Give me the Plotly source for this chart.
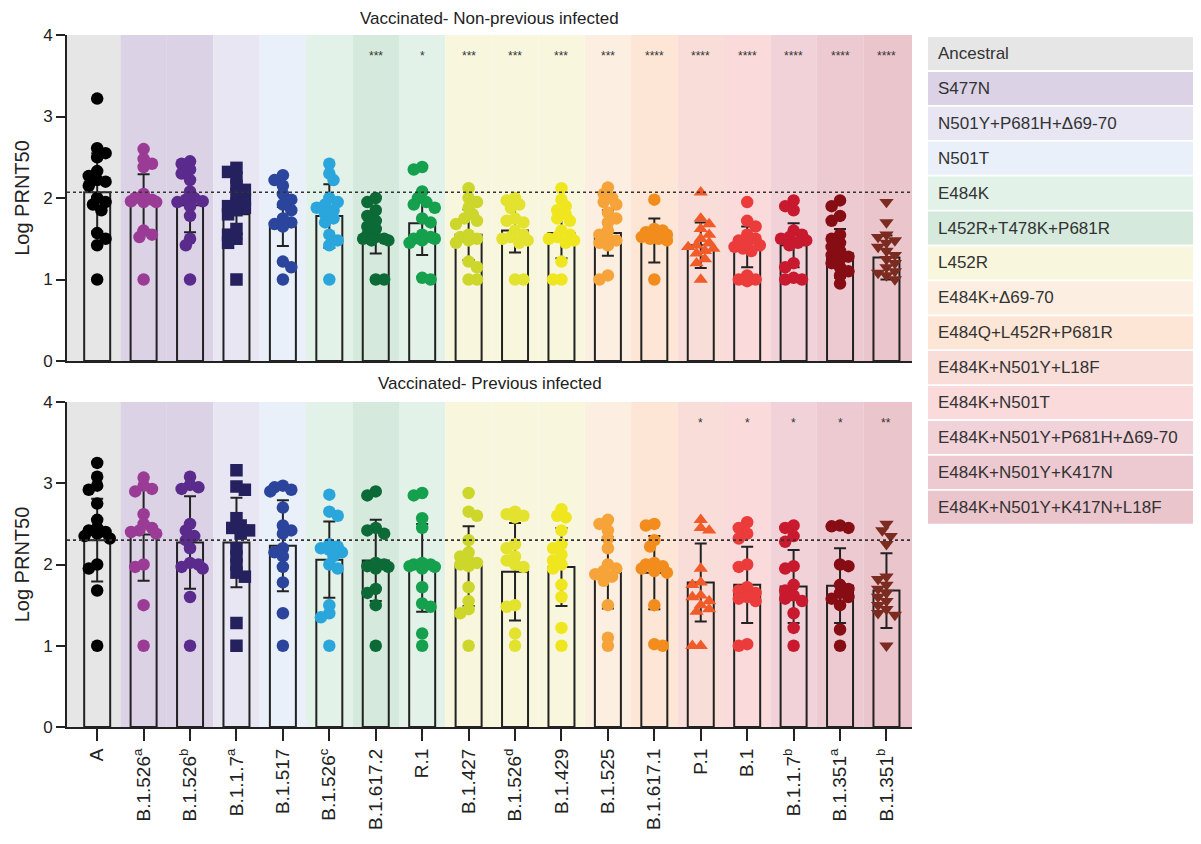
import plotly.graph_objects as go

# ---------------- data ----------------
categories = ["A", "B.1.526", "B.1.526", "B.1.1.7", "B.1.517", "B.1.526", "B.1.617.2", "R.1",
              "B.1.427", "B.1.526", "B.1.429", "B.1.525", "B.1.617.1", "P.1", "B.1", "B.1.1.7",
              "B.1.351", "B.1.351"]
superscripts = ["", "a", "b", "a", "", "c", "", "", "", "d", "", "", "", "", "", "b", "a", "b"]

mutation_groups = ["Ancestral", "S477N", "N501Y+P681H+Δ69-70", "N501T", "E484K",
                   "L452R+T478K+P681R", "L452R", "E484K+Δ69-70", "E484Q+L452R+P681R",
                   "E484K+N501Y+L18F", "E484K+N501T", "E484K+N501Y+P681H+Δ69-70",
                   "E484K+N501Y+K417N", "E484K+N501Y+K417N+L18F"]
category_group = [0, 1, 1, 2, 3, 4, 5, 4, 6, 6, 6, 7, 8, 9, 10, 11, 12, 13]

# Vaccinated - non-previous infected
mean_nonprev = [2.07, 1.95, 1.91, 1.80, 1.65, 1.78, 1.52, 1.69, 1.55, 1.60, 1.57, 1.57, 1.48,
                1.42, 1.40, 1.42, 1.32, 1.27]
sd_nonprev = [0.48, 0.34, 0.33, 0.30, 0.24, 0.39, 0.20, 0.39, 0.31, 0.27, 0.31, 0.28, 0.27,
              0.28, 0.25, 0.27, 0.30, 0.27]
pts_nonprev = [
    [3.22, 2.61, 2.55, 2.5, 2.33, 2.27, 2.22, 2.2, 2.15, 2.0, 1.95, 1.92, 1.85, 1.57, 1.5, 1.42, 1.0],
    [2.6, 2.48, 2.42, 2.38, 2.05, 2.0, 1.98, 1.97, 1.96, 1.95, 1.95, 1.6, 1.55, 1.52, 1.0],
    [2.45, 2.42, 2.35, 2.3, 2.22, 2.08, 2.0, 1.98, 1.96, 1.95, 1.9, 1.78, 1.5, 1.42, 1.0],
    [2.37, 2.32, 2.25, 2.15, 2.1, 2.05, 1.98, 1.93, 1.9, 1.88, 1.85, 1.8, 1.62, 1.55, 1.5, 1.45, 1.0],
    [2.28, 2.22, 2.15, 2.05, 1.98, 1.92, 1.85, 1.75, 1.7, 1.68, 1.65, 1.22, 1.15, 1.0],
    [2.42, 2.3, 2.22, 2.0, 1.95, 1.92, 1.88, 1.85, 1.8, 1.75, 1.7, 1.55, 1.48, 1.42, 1.0],
    [2.0, 1.95, 1.85, 1.78, 1.72, 1.65, 1.62, 1.55, 1.52, 1.5, 1.5, 1.48, 1.48, 1.0, 1.0],
    [2.38, 2.35, 2.08, 2.0, 1.95, 1.92, 1.88, 1.75, 1.7, 1.55, 1.52, 1.5, 1.5, 1.48, 1.45, 1.02, 1.0],
    [2.12, 2.0, 1.95, 1.88, 1.8, 1.75, 1.72, 1.68, 1.55, 1.52, 1.5, 1.48, 1.45, 1.22, 1.15, 1.0, 1.0],
    [2.0, 1.97, 1.92, 1.88, 1.75, 1.72, 1.7, 1.6, 1.55, 1.52, 1.5, 1.48, 1.45, 1.0, 1.0],
    [2.12, 1.98, 1.9, 1.85, 1.8, 1.75, 1.72, 1.6, 1.55, 1.52, 1.5, 1.48, 1.45, 1.22, 1.0, 1.0],
    [2.13, 2.05, 2.0, 1.95, 1.92, 1.82, 1.75, 1.7, 1.6, 1.55, 1.5, 1.48, 1.45, 1.42, 1.05, 1.0],
    [1.98, 1.62, 1.6, 1.58, 1.55, 1.55, 1.52, 1.5, 1.5, 1.48, 1.0],
    [2.07, 1.75, 1.68, 1.62, 1.55, 1.5, 1.45, 1.42, 1.4, 1.38, 1.35, 1.32, 1.25, 1.2, 1.0],
    [1.95, 1.72, 1.65, 1.55, 1.5, 1.48, 1.45, 1.42, 1.4, 1.38, 1.35, 1.05, 1.0, 1.0, 0.98],
    [1.97, 1.9, 1.85, 1.6, 1.55, 1.52, 1.5, 1.48, 1.45, 1.42, 1.2, 1.15, 1.02, 1.0, 1.0],
    [1.97, 1.9, 1.78, 1.72, 1.55, 1.5, 1.45, 1.4, 1.35, 1.3, 1.28, 1.25, 1.2, 1.15, 1.1, 1.05, 0.95],
    [1.95, 1.7, 1.55, 1.52, 1.48, 1.45, 1.4, 1.35, 1.3, 1.25, 1.2, 1.15, 1.1, 1.08, 1.05, 1.0],
]
stars_nonprev = ["", "", "", "", "", "", "***", "*", "***", "***", "***", "***", "****",
                 "****", "****", "****", "****", "****"]

# Vaccinated - previous infected
mean_prev = [2.30, 2.37, 2.27, 2.27, 2.23, 2.06, 2.05, 1.96, 1.98, 1.91, 1.97, 1.90, 1.90,
             1.78, 1.75, 1.73, 1.74, 1.68]
sd_prev = [0.51, 0.57, 0.57, 0.55, 0.56, 0.47, 0.50, 0.54, 0.49, 0.60, 0.48, 0.44, 0.45,
           0.48, 0.47, 0.45, 0.46, 0.46]
pts_prev = [
    [3.25, 3.08, 2.97, 2.92, 2.75, 2.55, 2.45, 2.42, 2.4, 2.38, 2.35, 2.32, 2.0, 1.95, 1.68, 1.0],
    [3.07, 2.97, 2.93, 2.9, 2.62, 2.5, 2.45, 2.42, 2.4, 2.38, 2.0, 1.97, 1.5, 1.0],
    [3.08, 2.98, 2.95, 2.93, 2.5, 2.42, 2.35, 2.3, 2.2, 2.02, 2.0, 1.97, 1.95, 1.6, 1.0],
    [3.16, 2.96, 2.92, 2.57, 2.48, 2.45, 2.42, 2.38, 2.2, 2.1, 2.0, 1.9, 1.85, 1.28, 1.0],
    [2.97, 2.95, 2.92, 2.9, 2.7, 2.48, 2.42, 2.38, 2.2, 2.15, 2.1, 1.97, 1.78, 1.4, 1.0],
    [2.86, 2.65, 2.6, 2.25, 2.22, 2.2, 2.18, 2.15, 2.1, 2.0, 1.95, 1.5, 1.4, 1.35, 1.0],
    [2.9, 2.85, 2.45, 2.42, 2.38, 2.02, 2.0, 1.98, 1.97, 1.95, 1.7, 1.65, 1.5, 1.0],
    [2.88, 2.85, 2.57, 2.45, 2.02, 2.0, 2.0, 1.98, 1.97, 1.95, 1.72, 1.52, 1.48, 1.15, 1.0],
    [2.88, 2.65, 2.6, 2.3, 2.15, 2.1, 2.05, 2.02, 2.0, 1.98, 1.72, 1.55, 1.45, 1.4, 1.0],
    [2.65, 2.62, 2.6, 2.58, 2.25, 2.2, 2.1, 2.05, 2.0, 1.97, 1.5, 1.48, 1.15, 1.0],
    [2.68, 2.6, 2.58, 2.42, 2.25, 2.2, 2.12, 2.05, 2.0, 1.95, 1.75, 1.6, 1.22, 1.0],
    [2.55, 2.5, 2.42, 2.32, 2.2, 2.0, 1.95, 1.92, 1.88, 1.85, 1.8, 1.5, 1.1, 1.0],
    [2.5, 2.48, 2.3, 2.22, 2.02, 2.0, 1.98, 1.95, 1.92, 1.9, 1.5, 1.02, 1.0],
    [2.55, 2.45, 2.42, 1.95, 1.78, 1.75, 1.62, 1.6, 1.55, 1.5, 1.45, 1.42, 1.0, 1.0],
    [2.52, 2.45, 2.38, 2.32, 2.0, 1.97, 1.72, 1.68, 1.65, 1.6, 1.58, 1.55, 1.02, 1.0],
    [2.48, 2.45, 2.35, 2.28, 1.98, 1.95, 1.75, 1.68, 1.62, 1.58, 1.55, 1.4, 1.22, 1.0],
    [2.48, 2.47, 2.45, 2.0, 1.98, 1.75, 1.7, 1.65, 1.6, 1.58, 1.5, 1.2, 1.0],
    [2.5, 2.42, 2.35, 2.25, 1.85, 1.82, 1.75, 1.7, 1.65, 1.6, 1.55, 1.5, 1.45, 1.4, 1.38, 1.0],
]
stars_prev = ["", "", "", "", "", "", "", "", "", "", "", "", "", "*", "*", "*", "*", "**"]

# ---------------- styles ----------------
group_colors = ["#e6e6e6", "#dbd2e5", "#e8e6f3", "#eaf0f9", "#e2f2e8", "#d5e9dd", "#f8f7de",
                "#fcefe1", "#fde6d5", "#f9ddd8", "#fadada", "#f1d2d9", "#edcad1", "#ebc5cc"]
point_colors = ["#000000", "#9a3c96", "#5a2b8c", "#24215e", "#2a459b", "#2aa6dc", "#0b6a36",
                "#14a04c", "#cdd62b", "#e3e22e", "#efe61f", "#f6a33a", "#f28d1d", "#f15a29",
                "#ec3b3b", "#c8192f", "#870d14", "#7b2b20"]
point_symbols = ["circle"] * 3 + ["square"] + ["circle"] * 9 + ["triangle-up"] + ["circle"] * 3 + ["triangle-down"]

FONT = "Arial, Liberation Sans, sans-serif"
OFF = 8                      # page margin of the browser body
W, H = 1201 - OFF, 844 - OFF
ML, MT = 67 - OFF, 35 - OFF
MR = W - (912 - OFF)
MB = H - (727 - OFF)
XMIN, XMAX = -0.65, 17.55
PX_X = (W - ML - MR) / (XMAX - XMIN)
PX_Y = 81.4
DIAM = 12.5


def swarm(vals):
    """Deterministic beeswarm layout: horizontal offsets (in axis units)."""
    placed = []
    offs = []
    step = 4.2
    for i, v in enumerate(vals):
        y = v * PX_Y
        s = 1 if i % 2 == 0 else -1
        cands = [0.0]
        for k in range(1, 4):
            cands += [s * k * step, -s * k * step]
        best, best_score = None, None
        lim = (DIAM * 0.6) ** 2
        for c in cands:
            score = 0.0
            for (px, py_) in placed:
                d2 = (c - px) ** 2 + (y - py_) ** 2
                if d2 < lim:
                    score += lim - d2
            if score == 0:
                best = c
                break
            if best_score is None or score < best_score:
                best, best_score = c, score
        placed.append((best, y))
        offs.append(best / PX_X)
    return offs


fig = go.Figure()

panels = [
    ("x", "y", mean_nonprev, sd_nonprev, pts_nonprev, stars_nonprev),
    ("x2", "y2", mean_prev, sd_prev, pts_prev, stars_prev),
]

shapes = []
annotations = []
for xa, ya, means, sds, pts, stars in panels:
    n = len(categories)
    for i in range(n):
        x0 = XMIN if i == 0 else i - 0.5
        x1 = XMAX if i == n - 1 else i + 0.5
        shapes.append(dict(type="rect", xref=xa, yref=ya, x0=x0, x1=x1, y0=0, y1=4,
                           fillcolor=group_colors[category_group[i]], line_width=0,
                           layer="below"))
    fig.add_trace(go.Bar(
        x=list(range(n)), y=means, width=0.56, xaxis=xa, yaxis=ya,
        marker=dict(color="rgba(0,0,0,0)", line=dict(color="#222222", width=2)),
        error_y=dict(type="data", array=sds, visible=True, color="#222222",
                     thickness=2, width=6),
        showlegend=False, hoverinfo="skip"))
    for i in range(n):
        vals = sorted(pts[i], reverse=True)
        offs = swarm(vals)
        fig.add_trace(go.Scatter(
            x=[i + o for o in offs], y=vals, mode="markers", xaxis=xa, yaxis=ya,
            marker=dict(color=point_colors[i], size=DIAM, symbol=point_symbols[i],
                        line=dict(width=0)),
            showlegend=False, hoverinfo="skip"))
    shapes.append(dict(type="line", xref=xa + " domain", yref=ya, x0=0, x1=1,
                       y0=means[0], y1=means[0],
                       line=dict(color="#333333", width=1.6, dash="dot")))
    for i, s in enumerate(stars):
        if s:
            annotations.append(dict(x=i, y=3.74, xref=xa, yref=ya, text=s, showarrow=False,
                                    yanchor="middle",
                                    font=dict(family=FONT, size=12, color="#333333")))

plot_h = H - MT - MB
plot_w = W - ML - MR


def py(px):
    return (H - MB - (px - OFF)) / plot_h


def pxp(px):
    return (px - OFF - ML) / plot_w


annotations.append(dict(x=0.5, y=py(18), xref="paper", yref="paper", yanchor="middle",
                        text="Vaccinated- Non-previous infected", showarrow=False,
                        font=dict(family=FONT, size=17, color="#222222")))
annotations.append(dict(x=0.5, y=py(383), xref="paper", yref="paper", yanchor="middle",
                        text="Vaccinated- Previous infected", showarrow=False,
                        font=dict(family=FONT, size=17, color="#222222")))

row_top = 37
row_pitch = 34.9
for k, name in enumerate(mutation_groups):
    t = row_top + k * row_pitch
    b = t + row_pitch - 1.8
    shapes.append(dict(type="rect", xref="paper", yref="paper",
                       x0=pxp(928), x1=pxp(1200), y0=py(b), y1=py(t),
                       fillcolor=group_colors[k], line_width=0))
    annotations.append(dict(x=pxp(936), y=py((t + b) / 2), xref="paper", yref="paper",
                            text=name, showarrow=False, xanchor="left", yanchor="middle",
                            font=dict(family=FONT, size=17, color="#333333")))

ticktext = [c + ("<sup>" + s + "</sup>" if s else "") for c, s in zip(categories, superscripts)]

axis_common = dict(range=[XMIN, XMAX], showgrid=False, zeroline=False, showline=True,
                   linecolor="#222222", linewidth=2, tickvals=list(range(len(categories))))
yaxis_common = dict(range=[0, 4], tickvals=[0, 1, 2, 3, 4], showgrid=False, zeroline=False,
                    showline=True, linecolor="#222222", linewidth=2, ticks="outside",
                    ticklen=9, tickwidth=1.5, tickcolor="#222222",
                    tickfont=dict(family=FONT, size=17, color="#222222"),
                    title=dict(text="Log PRNT50", font=dict(family=FONT, size=20, color="#222222"),
                               standoff=8))

fig.update_layout(
    width=W, height=H,
    margin=dict(l=ML, r=MR, t=MT, b=MB, autoexpand=False),
    paper_bgcolor="white", plot_bgcolor="white",
    barmode="overlay",
    xaxis=dict(**axis_common, anchor="y", showticklabels=False, ticks=""),
    yaxis=dict(**yaxis_common, domain=[py(361), 1.0], anchor="x"),
    xaxis2=dict(**axis_common, anchor="y2", ticktext=ticktext, ticks="outside", ticklen=12,
                tickwidth=1.5, tickcolor="#222222", tickangle=-90,
                tickfont=dict(family=FONT, size=19, color="#222222")),
    yaxis2=dict(**yaxis_common, domain=[0.0, py(402)], anchor="x2"),
    shapes=shapes,
    annotations=annotations,
    showlegend=False,
)

fig.write_html("out.html")
